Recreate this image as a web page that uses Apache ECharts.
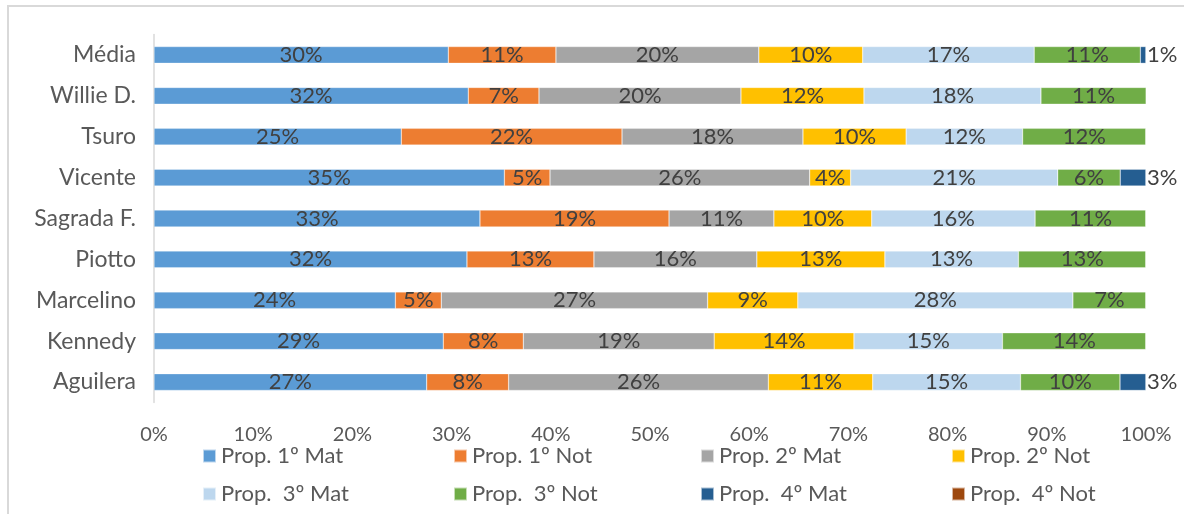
<!DOCTYPE html>
<html>
<head>
<meta charset="utf-8">
<script src="https://cdn.jsdelivr.net/npm/echarts@6/dist/echarts.min.js"></script>
<style>
  html, body { margin: 0; padding: 0; background: #ffffff; overflow: hidden; }
  #frame { position: absolute; left: 7px; top: 5px; width: 1300px; height: 700px; border: 2px solid #d9d9d9; box-sizing: border-box; }
  #chart { position: absolute; left: 0; top: 0; width: 1184px; height: 514px; }
</style>
</head>
<body>
<div id="frame"></div>
<div id="chart"></div>
<script>
// Schools, listed bottom to top
const categories = ['Aguilera', 'Kennedy', 'Marcelino', 'Piotto', 'Sagrada F.', 'Vicente', 'Tsuro', 'Willie D.', 'Média'];

// Share of each grade/shift per school (percent)
const mat1 = [27.49, 29.16, 24.33, 31.55, 32.86, 35.32, 24.93, 31.68, 29.67];
const not1 = [8.26, 8.07, 4.63, 12.80, 19.06, 4.60, 22.25, 7.13, 10.85];
const mat2 = [26.18, 19.24, 26.85, 16.42, 10.57, 26.18, 18.24, 20.36, 20.45];
const not2 = [10.52, 14.09, 9.09, 12.91, 9.86, 4.13, 10.40, 12.40, 10.47];
const mat3 = [14.90, 14.97, 27.73, 13.46, 16.47, 20.87, 11.74, 17.84, 17.29];
const not3 = [10.03, 14.47, 7.37, 12.86, 11.18, 6.30, 12.44, 10.60, 10.70];
const mat4 = [2.62, 0, 0, 0, 0, 2.60, 0, 0, 0.57];
const not4 = [0, 0, 0, 0, 0, 0, 0, 0, 0];

const seriesNames = ['Prop. 1º Mat', 'Prop. 1º Not', 'Prop. 2º Mat', 'Prop. 2º Not',
                     'Prop.  3º Mat', 'Prop.  3º Not', 'Prop.  4º Mat', 'Prop.  4º Not'];
const seriesData = [mat1, not1, mat2, not2, mat3, not3, mat4, not4];
const colors = ['#5B9BD5', '#ED7D31', '#A5A5A5', '#FFC000', '#BDD7EE', '#70AD47', '#255E91', '#9E480E'];

const xTicks = [0, 10, 20, 30, 40, 50, 60, 70, 80, 90, 100];

const FONT = 'Lato, "Open Sans", sans-serif';

const chart = echarts.init(document.getElementById('chart'), null, { renderer: 'canvas' });

const series = seriesData.map((data, i) => ({
  name: seriesNames[i],
  type: 'bar',
  stack: 'total',
  data: data,
  barWidth: '41%',
  itemStyle: { color: colors[i], borderColor: 'rgba(255,255,255,0.6)', borderWidth: 0.5 },
  label: {
    show: true,
    position: i === 6 ? 'right' : 'inside',
    distance: 1,
    fontFamily: FONT,
    fontSize: 22,
    color: '#404040',
    formatter: p => (p.value > 0 ? Math.round(p.value) + '%' : '')
  },
  emphasis: { disabled: true }
}));

// Legend laid out as a 4 x 2 grid, one entry per legend component
const legendCols = [202, 453, 700, 951];
const legendRows = [444, 482];
const legends = seriesNames.map((name, i) => ({
  data: [name],
  left: legendCols[i % 4],
  top: legendRows[Math.floor(i / 4)],
  orient: 'horizontal',
  itemWidth: 13,
  itemHeight: 13,
  icon: 'rect',
  selectedMode: false,
  padding: 0,
  textStyle: { fontFamily: FONT, fontSize: 22, color: '#595959', lineHeight: 24 }
}));

chart.setOption({
  animation: false,
  color: colors,
  grid: { left: 154, right: 38, top: 34.5, bottom: 111.5, containLabel: false },
  xAxis: {
    type: 'value',
    min: 0,
    max: 100,
    interval: 10,
    axisLine: { show: false },
    axisTick: { show: false },
    splitLine: { show: false },
    axisLabel: {
      margin: 22,
      fontFamily: FONT,
      fontSize: 20,
      color: '#595959',
      formatter: v => (xTicks.includes(v) ? v + '%' : '')
    }
  },
  yAxis: {
    type: 'category',
    data: categories,
    axisLine: { show: true, lineStyle: { color: '#d9d9d9', width: 1.5 } },
    axisTick: { show: false },
    axisLabel: { margin: 18, fontFamily: FONT, fontSize: 23, color: '#595959' }
  },
  legend: legends,
  series: series
});
</script>
</body>
</html>
